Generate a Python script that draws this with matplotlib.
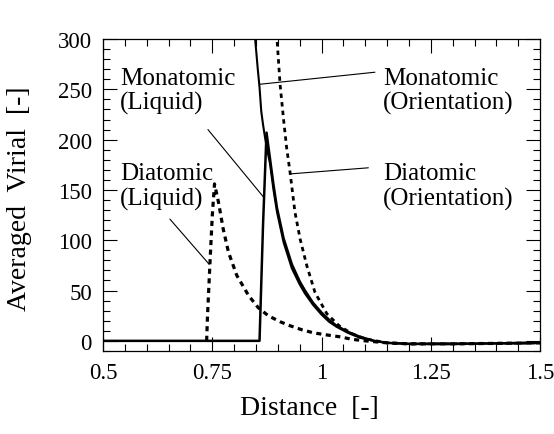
import numpy as np
import matplotlib
matplotlib.use('Agg')
from matplotlib import pyplot as plt
from matplotlib.ticker import MultipleLocator

plt.rcParams['font.family'] = ['Liberation Serif', 'DejaVu Serif']

# Monatomic (Liquid)
x_mono_liq = [0.5, 0.858, 0.866, 0.874, 0.882, 0.890, 0.898, 0.913, 0.932, 0.950,
              0.962, 0.980, 1.0, 1.017, 1.034, 1.06, 1.088, 1.12, 1.15, 1.2,
              1.3, 1.4, 1.5]
y_mono_liq = [0, 0, 115, 207, 181, 155, 132, 102, 76, 59,
              50, 38, 28, 21, 15, 9, 4, 0, -2, -3,
              -3, -2.5, -2]

# Monatomic (Orientation)
x_mono_ori = [0.842, 0.848, 0.854, 0.858, 0.862, 0.866, 0.871, 0.876, 0.882, 0.890,
              0.898, 0.913, 0.932, 0.950, 0.962, 0.980, 1.0, 1.017, 1.034, 1.06,
              1.088, 1.12, 1.15, 1.2, 1.3, 1.4, 1.5]
y_mono_ori = [340, 300, 270, 252, 228, 215, 201, 189, 176, 150,
              128, 98, 72, 56, 47, 36, 26, 19, 14, 8,
              3, 0, -2, -3, -3, -2.5, -2]

# Diatomic (Liquid)
x_di_liq = [0.737, 0.739, 0.745, 0.750, 0.755, 0.764, 0.775, 0.787, 0.806, 0.833,
            0.855, 0.878, 0.905, 0.928, 0.955, 0.981, 1.01, 1.042, 1.07, 1.1,
            1.15, 1.2, 1.3, 1.4, 1.5]
y_di_liq = [0, 25, 81, 125, 156, 138, 111, 88, 65, 45,
            33, 25, 19, 15, 11, 8, 6, 4, 1.5, 0,
            -2, -3, -3, -2.5, -2]

# Diatomic (Orientation)
x_di_ori = [0.893, 0.898, 0.905, 0.913, 0.920, 0.928, 0.939, 0.951, 0.966, 0.985,
            1.012, 1.04, 1.07, 1.1, 1.15, 1.2, 1.3, 1.4, 1.5]
y_di_ori = [340, 300, 255, 220, 192, 167, 128, 101, 75, 48,
            27, 15, 7, 2, -2, -3, -3, -2.5, -2]

fig = plt.figure(figsize=(5.54, 4.35), dpi=100)
ax = fig.add_axes([0.186, 0.191, 0.789, 0.717])

ax.plot(x_di_liq, y_di_liq, color='black', lw=2.3, linestyle=(0, (1.6, 1.4)))
ax.plot(x_di_ori, y_di_ori, color='black', lw=2.0, linestyle=(0, (1.6, 1.5)))
ax.plot(x_mono_liq, y_mono_liq, color='black', lw=1.8)
ax.plot(x_mono_ori, y_mono_ori, color='black', lw=1.5)

ax.set_xlim(0.5, 1.5)
ax.set_ylim(-10, 300)
ax.set_xticks([0.5, 0.75, 1, 1.25, 1.5])
ax.set_xticklabels(['0.5', '0.75', '1', '1.25', '1.5'])
ax.set_yticks([0, 50, 100, 150, 200, 250, 300])
ax.xaxis.set_minor_locator(MultipleLocator(0.05))
ax.yaxis.set_minor_locator(MultipleLocator(10))
ax.tick_params(which='both', direction='in', top=True, right=True,
               labelsize=16.5, width=0.8, pad=8)
ax.tick_params(which='major', length=10)
ax.tick_params(which='minor', length=5)
for s in ax.spines.values():
    s.set_linewidth(0.9)

ax.set_xlabel('Distance  [-]', fontsize=20, va='top')
ax.xaxis.set_label_coords(0.471, -0.14)
ax.set_ylabel('Averaged  Virial  [-]', fontsize=20)
ax.yaxis.set_label_coords(-0.162, 0.49)

# labels and leader lines
fs = 18
ls = 1.12
ax.text(0.539, 249, 'Monatomic\n(Liquid)', fontsize=fs, ha='left', va='center', linespacing=ls)
ax.text(0.539, 154, 'Diatomic\n(Liquid)', fontsize=fs, ha='left', va='center', linespacing=ls)
ax.text(1.141, 249, 'Monatomic\n(Orientation)', fontsize=fs, ha='left', va='center', linespacing=ls)
ax.text(1.141, 154, 'Diatomic\n(Orientation)', fontsize=fs, ha='left', va='center', linespacing=ls)

leader = dict(arrowstyle='-', lw=0.8, color='black', shrinkA=0, shrinkB=0)
ax.annotate('', xy=(0.867, 143), xytext=(0.740, 210), arrowprops=leader)
ax.annotate('', xy=(0.743, 76), xytext=(0.653, 121), arrowprops=leader)
ax.annotate('', xy=(0.858, 255), xytext=(1.122, 267), arrowprops=leader)
ax.annotate('', xy=(0.930, 166), xytext=(1.107, 172), arrowprops=leader)

fig.savefig('out.png', dpi=100)
